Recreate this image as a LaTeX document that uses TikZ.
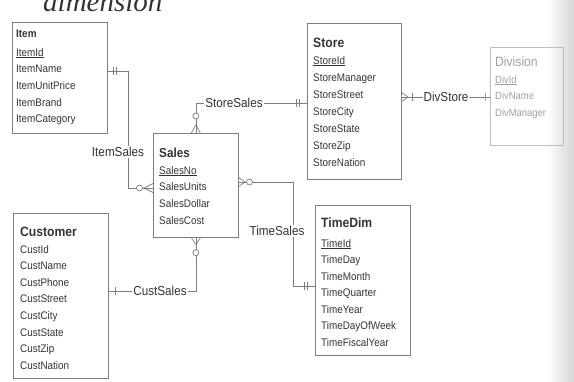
\documentclass[tikz,border=0pt]{standalone}
\usepackage{fontspec}
\setmainfont{Liberation Sans}[FakeStretch=0.9]
\newfontfamily\headserif{Liberation Serif}
\usetikzlibrary{calc}

\definecolor{ink}{HTML}{333333}
\definecolor{rule}{HTML}{7E7E7E}
\definecolor{faint}{HTML}{A0A0A0}

\begin{document}
\begin{tikzpicture}[x=1pt,y=-1pt,
  box/.style={draw=rule, line width=0.7pt, rectangle, inner sep=0pt, anchor=north west},
  title/.style={anchor=base west, inner sep=0pt, text=ink, font=\fontsize{13}{15}\selectfont\bfseries},
  attr/.style={anchor=base west, inner sep=0pt, text=ink, font=\fontsize{11}{13}\selectfont},
  link/.style={draw=rule, line width=0.7pt},
  mk/.style={draw=rule, line width=0.7pt},
  lab/.style={fill=white, inner sep=1pt, text=ink, font=\fontsize{13}{15}\selectfont}]

\useasboundingbox (0,0) rectangle (574,381);
\clip (0,0) rectangle (574,381);

% page edge shadow on the right
\fill[left color=white, right color=black!16] (546,0) rectangle (574,381);

% running heading, cut by the page top
\node[anchor=base west, inner sep=0pt, text=ink,
      font=\headserif\itshape\fontsize{29}{30}\selectfont] (heading) at (43,11) {dimension};

% ---------- entities ----------
% Item
\node[box, minimum width=95pt, minimum height=111pt] (item) at (12,22) {};
\node[title, font=\fontsize{11}{13}\selectfont\bfseries] (item-t) at (16,37.5) {Item};
\foreach \t [count=\i from 0] in {\underline{ItemId},ItemName,ItemUnitPrice,ItemBrand,ItemCategory}
  \node[attr] (item-a\i) at (16,56+\i*16.7) {\t};

% Sales
\node[box, minimum width=85pt, minimum height=104pt] (sales) at (153,133) {};
\node[title] (sales-t) at (159,157.5) {Sales};
\foreach \t [count=\i from 0] in {\underline{SalesNo},SalesUnits,SalesDollar,SalesCost}
  \node[attr] (sales-a\i) at (159,174+\i*16.7) {\t};

% Store
\node[box, minimum width=94pt, minimum height=156pt] (store) at (307,23) {};
\node[title, font=\fontsize{13.5}{15}\selectfont\bfseries] (store-t) at (313,47.5) {Store};
\foreach \t [count=\i from 0] in {\underline{StoreId},StoreManager,StoreStreet,StoreCity,StoreState,StoreZip,StoreNation}
  \node[attr] (store-a\i) at (313,64+\i*17) {\t};

% Division
\node[box, draw=faint!70, minimum width=73pt, minimum height=98pt] (division) at (490,47) {};
\node[title, text=faint, font=\fontsize{13.5}{15}\selectfont] (division-t) at (495,66.5) {Division};
\foreach \t [count=\i from 0] in {\underline{DivId},DivName,DivManager}
  \node[attr, text=faint, font=\fontsize{10.5}{13}\selectfont] (division-a\i) at (495,83+\i*16.5) {\t};

% TimeDim
\node[box, minimum width=95pt, minimum height=150pt] (timedim) at (315,205) {};
\node[title, font=\fontsize{13.5}{15}\selectfont\bfseries] (timedim-t) at (321,227.5) {TimeDim};
\foreach \t [count=\i from 0] in {\underline{TimeId},TimeDay,TimeMonth,TimeQuarter,TimeYear,TimeDayOfWeek,TimeFiscalYear}
  \node[attr] (timedim-a\i) at (321,247+\i*16.5) {\t};

% Customer
\node[box, minimum width=95pt, minimum height=165pt] (customer) at (13,213) {};
\node[title, font=\fontsize{13.5}{15}\selectfont\bfseries] (customer-t) at (20,236.5) {Customer};
\foreach \t [count=\i from 0] in {CustId,CustName,CustPhone,CustStreet,CustCity,CustState,CustZip,CustNation}
  \node[attr] (customer-a\i) at (20,253+\i*16.6) {\t};

% ---------- relationships ----------
% ItemSales
\coordinate (is1) at (128,71);
\coordinate (is2) at (128,188);
\draw[link] (item.east |- is1) -- (is1) -- (is2) -- (sales.west |- is2);
\draw[mk] (113,67) -- (113,75) (116,67) -- (116,75);
\draw[mk, fill=white] (139.5,188) circle (3);
\draw[mk] (sales.west |- 0,183.5) -- (144,188) -- (sales.west |- 0,192.5);
\node[lab] (l-itemsales) at (118,152) {ItemSales};

% StoreSales
\coordinate (ss1) at (sales.north |- 0,103);
\draw[link] (sales.north) -- (ss1) -- (store.west |- ss1);
\draw[mk, fill=white] ($(sales.north)+(0,-17)$) circle (3);
\draw[mk] ($(sales.north)+(-4.5,0)$) -- ($(sales.north)+(0,-8)$) -- ($(sales.north)+(4.5,0)$);
\draw[mk] (296,99) -- (296,107) (299,99) -- (299,107);
\node[lab] (l-storesales) at (234,103) {StoreSales};

% DivStore
\coordinate (ds1) at (store.east |- 0,97);
\draw[link] (ds1) -- (division.west |- ds1);
\draw[mk] (store.east |- 0,92.5) -- (408,97) -- (store.east |- 0,101.5);
\draw[mk] (412,93) -- (412,101);
\draw[mk, draw=faint] (485,93) -- (485,101);
\node[lab] (l-divstore) at (446,97) {DivStore};

% TimeSales
\coordinate (ts1) at (293,182);
\coordinate (ts2) at (293,286);
\draw[link] (sales.east |- ts1) -- (ts1) -- (ts2) -- (timedim.west |- ts2);
\draw[mk] (sales.east |- 0,177.5) -- (245,182) -- (sales.east |- 0,186.5);
\draw[mk, fill=white] (249.5,182) circle (3);
\draw[mk] (304,282) -- (304,290) (307,282) -- (307,290);
\node[lab] (l-timesales) at (277,231) {TimeSales};

% CustSales
\coordinate (cs1) at (sales.south |- 0,291);
\draw[link] (sales.south) -- (cs1) -- (customer.east |- cs1);
\draw[mk] ($(sales.south)+(-4.5,0)$) -- ($(sales.south)+(0,7)$) -- ($(sales.south)+(4.5,0)$);
\draw[mk, fill=white] ($(sales.south)+(0,15)$) circle (3);
\draw[mk] (115,287) -- (115,295);
\node[lab] (l-custsales) at (160,291) {CustSales};
\end{tikzpicture}
\end{document}
